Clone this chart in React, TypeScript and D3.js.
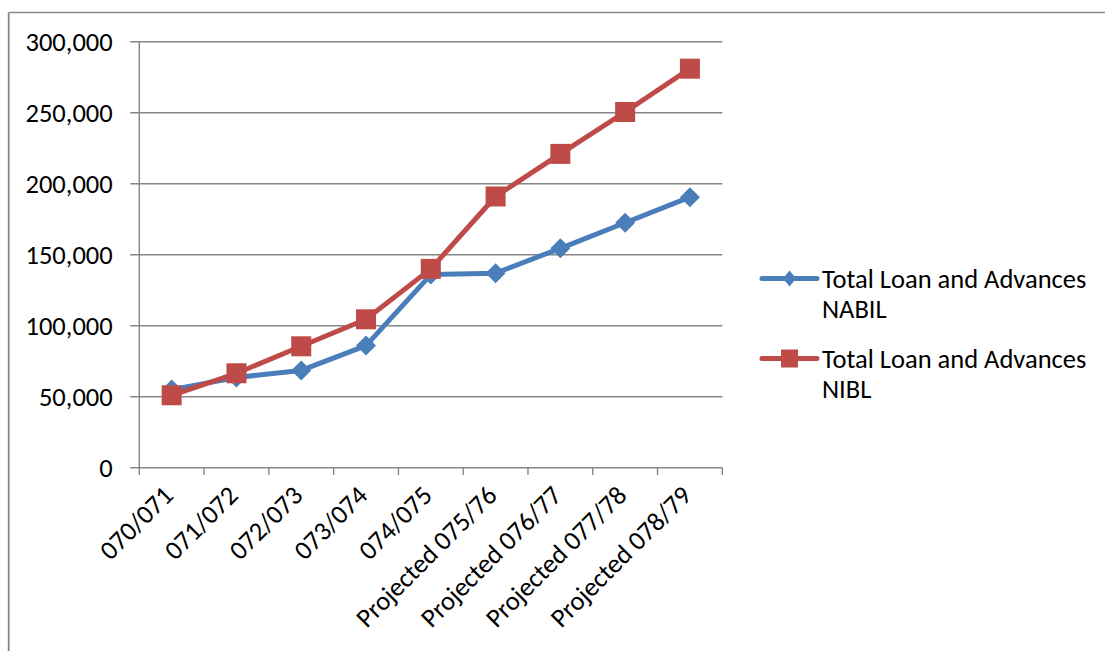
import React from "react";
import * as d3 from "d3";

const categories = [
  "070/071",
  "071/072",
  "072/073",
  "073/074",
  "074/075",
  "Projected 075/76",
  "Projected 076/77",
  "Projected 077/78",
  "Projected 078/79",
];
const nabil = [55000, 63500, 68500, 86000, 136000, 137000, 154500, 172500, 190500];
const nibl = [51000, 66500, 85500, 104500, 140000, 191000, 221000, 250500, 281000];
const yTicks = [0, 50000, 100000, 150000, 200000, 250000, 300000];
const seriesNames = ["Total Loan and Advances NABIL", "Total Loan and Advances NIBL"];

const W = 1105;
const H = 651;
const FONT = "Calibri, Carlito, 'Liberation Sans', Arial, sans-serif";
const FS = 26.5;
const BLUE = "#4A7EBB";
const RED = "#BE4B48";
const GRID = "#868686";

export default function App() {
  const x = d3.scaleBand<string>().domain(categories).range([139.3, 722.3]).padding(0);
  const y = d3.scaleLinear().domain([0, 300000]).range([467.7, 41.7]);
  const cx = (c: string) => (x(c) as number) + x.bandwidth() / 2;
  const line = d3
    .line<number>()
    .x((_, i) => cx(categories[i]))
    .y((v) => y(v));
  const fmt = d3.format(",");
  const boundaries = d3.range(categories.length + 1).map((i) => 139.3 + i * x.bandwidth());

  const diamond = (px: number, py: number, r: number) =>
    `M${px},${py - r}L${px + r},${py}L${px},${py + r}L${px - r},${py}Z`;

  const legendY = [278.5, 358.5];

  return (
    <svg
      width={W}
      height={H}
      style={{ position: "absolute", left: 0, top: 0, background: "#fff" }}
      fontFamily={FONT}
    >
      <rect x={0} y={0} width={W} height={H} fill="#fff" />
      {/* outer frame */}
      <line x1={8.7} y1={12.5} x2={W + 5} y2={12.5} stroke={GRID} strokeWidth={1.5} />
      <line x1={8.7} y1={12.5} x2={8.7} y2={H + 5} stroke={GRID} strokeWidth={1.8} />

      {/* gridlines */}
      {yTicks.map((t) => (
        <g key={t}>
          <line x1={130.3} x2={722.3} y1={y(t)} y2={y(t)} stroke={GRID} strokeWidth={1.4} />
          <text
            x={112.7}
            y={y(t)}
            textAnchor="end"
            dominantBaseline="central"
            fontSize={FS}
            fill="#000"
          >
            {fmt(t)}
          </text>
        </g>
      ))}
      {/* y axis */}
      <line x1={139.3} x2={139.3} y1={41.7} y2={467.7} stroke={GRID} strokeWidth={1.4} />
      {/* x ticks */}
      {boundaries.map((b, i) => (
        <line key={i} x1={b} x2={b} y1={467.7} y2={475} stroke={GRID} strokeWidth={1.4} />
      ))}
      {/* x labels */}
      {categories.map((c) => (
        <text
          key={c}
          transform={`translate(${cx(c) + 3},${497}) rotate(-45)`}
          textAnchor="end"
          fontSize={FS}
          fill="#000"
        >
          {c}
        </text>
      ))}

      {/* series */}
      <path d={line(nabil) as string} fill="none" stroke={BLUE} strokeWidth={5} strokeLinejoin="round" />
      {nabil.map((v, i) => (
        <path key={i} d={diamond(cx(categories[i]), y(v), 10)} fill={BLUE} />
      ))}
      <path d={line(nibl) as string} fill="none" stroke={RED} strokeWidth={5} strokeLinejoin="round" />
      {nibl.map((v, i) => (
        <rect key={i} x={cx(categories[i]) - 10} y={y(v) - 10} width={20} height={20} fill={RED} />
      ))}

      {/* legend */}
      {seriesNames.map((name, i) => {
        const ly = legendY[i];
        const words = name.split(" ");
        const last = words.pop();
        return (
          <g key={name}>
            <line x1={762} x2={817} y1={ly} y2={ly} stroke={i === 0 ? BLUE : RED} strokeWidth={5} strokeLinecap="round" />
            {i === 0 ? (
              <path d={`M789.5,${ly - 8}L796,${ly}L789.5,${ly + 8}L783,${ly}Z`} fill={BLUE} />
            ) : (
              <rect x={781} y={ly - 9} width={17} height={18} fill={RED} />
            )}
            <text x={822} y={ly} dominantBaseline="central" fontSize={FS} fill="#000">
              {words.join(" ")}
            </text>
            <text x={822} y={ly + 30} dominantBaseline="central" fontSize={FS} fill="#000">
              {last}
            </text>
          </g>
        );
      })}
    </svg>
  );
}
